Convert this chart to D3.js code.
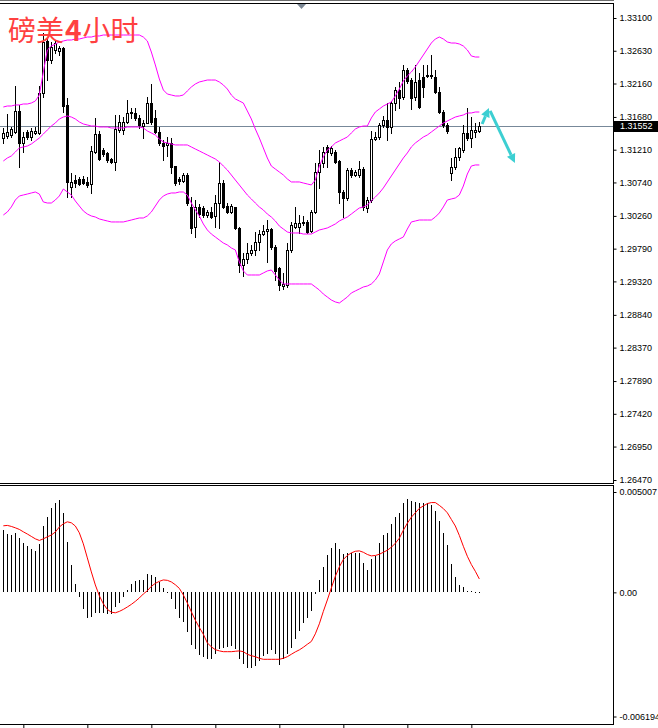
<!DOCTYPE html>
<html>
<head>
<meta charset="utf-8">
<script src="https://cdn.jsdelivr.net/npm/d3@7"></script>
<style>
  body { margin: 0; background: #fff; }
  svg { display: block; }
</style>
</head>
<body>
<div class="canvas"></div>
<script>
// GBPUSD H4 candles (bar 0 = leftmost)
const opens = [
  1.31378, 1.31407, 1.31421, 1.31464, 1.31766, 1.31306, 1.31464, 1.31392, 1.31450, 1.31450,
  1.32024, 1.32770, 1.32497, 1.32641, 1.32627, 1.32670, 1.31852, 1.30675, 1.30775, 1.30790,
  1.30790, 1.30747, 1.30718, 1.31177, 1.31435, 1.31206, 1.31163, 1.31077, 1.31034, 1.31493,
  1.31493, 1.31608, 1.31751, 1.31737, 1.31665, 1.31550, 1.31593, 1.31880, 1.31665, 1.31464,
  1.31306, 1.31278, 1.31306, 1.30976, 1.30790, 1.30761, 1.30847, 1.30388, 1.30101, 1.30388,
  1.30374, 1.30273, 1.30316, 1.30259, 1.30445, 1.30732, 1.30402, 1.30316, 1.30388, 1.30087,
  1.29556, 1.29642, 1.29728, 1.29771, 1.29886, 1.30000, 1.30043, 1.30072, 1.29814, 1.29513,
  1.29254, 1.29269, 1.29771, 1.30101, 1.30101, 1.30158, 1.30173, 1.30043, 1.30316, 1.30890,
  1.31019, 1.31249, 1.31163, 1.31177, 1.31048, 1.30603, 1.30517, 1.30919, 1.30847, 1.30847,
  1.30933, 1.30374, 1.30488, 1.31364, 1.31392, 1.31565, 1.31636, 1.31536, 1.31880, 1.32067,
  1.31966, 1.32354, 1.32210, 1.31966, 1.32210, 1.32253, 1.32268, 1.32268, 1.32253, 1.32038,
  1.31751, 1.31565, 1.30876, 1.30962, 1.31105, 1.31206, 1.31450, 1.31378, 1.31464, 1.31479
];
const highs = [
  1.31522, 1.31722, 1.31536, 1.32124, 1.31852, 1.31464, 1.31493, 1.31522, 1.31536, 1.32124,
  1.32885, 1.32813, 1.32756, 1.32784, 1.32698, 1.32684, 1.31952, 1.30876, 1.30847, 1.30818,
  1.30833, 1.30818, 1.31263, 1.31665, 1.31479, 1.31235, 1.31177, 1.31091, 1.31708, 1.31708,
  1.31679, 1.31923, 1.31809, 1.31809, 1.31708, 1.31636, 1.31966, 1.32153, 1.31780, 1.31536,
  1.31349, 1.31392, 1.31378, 1.30976, 1.30818, 1.30876, 1.30876, 1.30531, 1.30488, 1.30431,
  1.30402, 1.30345, 1.30388, 1.30560, 1.31034, 1.30775, 1.30445, 1.30431, 1.30388, 1.30101,
  1.29728, 1.29871, 1.29843, 1.30029, 1.30058, 1.30130, 1.30201, 1.30087, 1.29843, 1.29527,
  1.29441, 1.29871, 1.30173, 1.30388, 1.30273, 1.30259, 1.30201, 1.30345, 1.31019, 1.31206,
  1.31249, 1.31278, 1.31263, 1.31206, 1.31062, 1.30632, 1.30948, 1.30948, 1.30919, 1.31048,
  1.30962, 1.30531, 1.31479, 1.31464, 1.31593, 1.31694, 1.31880, 1.31909, 1.32110, 1.32182,
  1.32426, 1.32383, 1.32239, 1.32426, 1.32311, 1.32426, 1.32426, 1.32569, 1.32354, 1.32110,
  1.31780, 1.31593, 1.31091, 1.31235, 1.31249, 1.31565, 1.31809, 1.31679, 1.31593, 1.31608
];
const lows = [
  1.31306, 1.31378, 1.31392, 1.31450, 1.30962, 1.31177, 1.31364, 1.31349, 1.31435, 1.31435,
  1.31966, 1.32210, 1.32454, 1.32598, 1.32569, 1.31751, 1.30531, 1.30531, 1.30675, 1.30704,
  1.30718, 1.30675, 1.30589, 1.31163, 1.31062, 1.31120, 1.31034, 1.31019, 1.30919, 1.31464,
  1.31435, 1.31593, 1.31665, 1.31636, 1.31522, 1.31378, 1.31593, 1.31579, 1.31450, 1.31278,
  1.31062, 1.31120, 1.30876, 1.30704, 1.30718, 1.30747, 1.30417, 1.30015, 1.29957, 1.30244,
  1.30244, 1.30244, 1.30230, 1.30101, 1.30087, 1.30374, 1.30302, 1.30302, 1.30072, 1.29455,
  1.29398, 1.29584, 1.29699, 1.29699, 1.29771, 1.29986, 1.29599, 1.29785, 1.29340, 1.29197,
  1.29211, 1.29240, 1.29742, 1.30087, 1.30015, 1.30130, 1.30015, 1.30029, 1.30302, 1.30661,
  1.30962, 1.30962, 1.31134, 1.31019, 1.30445, 1.30244, 1.30488, 1.30818, 1.30833, 1.30818,
  1.30345, 1.30316, 1.30460, 1.31349, 1.31364, 1.31536, 1.31349, 1.31450, 1.31780, 1.31809,
  1.31938, 1.32167, 1.31794, 1.31923, 1.31809, 1.31966, 1.32253, 1.32239, 1.32024, 1.31737,
  1.31536, 1.31450, 1.30775, 1.30933, 1.31062, 1.31177, 1.31349, 1.31249, 1.31392, 1.31464
];
const closes = [
  1.31450, 1.31464, 1.31507, 1.31766, 1.31306, 1.31392, 1.31392, 1.31479, 1.31479, 1.32024,
  1.32756, 1.32497, 1.32684, 1.32741, 1.32670, 1.31837, 1.30747, 1.30747, 1.30732, 1.30718,
  1.30732, 1.30704, 1.31192, 1.31435, 1.31077, 1.31148, 1.31062, 1.31034, 1.31507, 1.31608,
  1.31608, 1.31737, 1.31737, 1.31665, 1.31565, 1.31593, 1.31880, 1.31608, 1.31464, 1.31306,
  1.31263, 1.31306, 1.30962, 1.30732, 1.30761, 1.30847, 1.30445, 1.30087, 1.30388, 1.30287,
  1.30273, 1.30316, 1.30244, 1.30445, 1.30732, 1.30388, 1.30316, 1.30402, 1.30087, 1.29556,
  1.29642, 1.29728, 1.29771, 1.29886, 1.30000, 1.30043, 1.30072, 1.29814, 1.29470, 1.29269,
  1.29283, 1.29771, 1.30130, 1.30158, 1.30158, 1.30173, 1.30029, 1.30316, 1.30890, 1.31019,
  1.31177, 1.31177, 1.31235, 1.31034, 1.30603, 1.30517, 1.30919, 1.30847, 1.30890, 1.30933,
  1.30388, 1.30488, 1.31364, 1.31392, 1.31565, 1.31636, 1.31536, 1.31880, 1.32067, 1.31952,
  1.32354, 1.32196, 1.31952, 1.32182, 1.31823, 1.32110, 1.32282, 1.32282, 1.32038, 1.31751,
  1.31565, 1.31479, 1.30962, 1.31105, 1.31235, 1.31450, 1.31378, 1.31493, 1.31493, 1.31552
];

// Bollinger bands as drawn
const bbUpper = [
  1.31823, 1.31837, 1.31837, 1.31852, 1.31852, 1.31866, 1.31866, 1.31880, 1.31909, 1.31995,
  1.32325, 1.32641, 1.32698, 1.32727, 1.32756, 1.32770, 1.32784, 1.32784, 1.32799, 1.32799,
  1.32813, 1.32827, 1.32827, 1.32842, 1.32842, 1.32856, 1.32856, 1.32856, 1.32856, 1.32856,
  1.32856, 1.32856, 1.32856, 1.32856, 1.32856, 1.32827, 1.32770, 1.32612, 1.32426, 1.32225,
  1.32067, 1.32009, 1.31995, 1.31981, 1.31981, 1.31995, 1.32053, 1.32110, 1.32153, 1.32182,
  1.32196, 1.32210, 1.32210, 1.32210, 1.32182, 1.32139, 1.32081, 1.31995, 1.31938, 1.31909,
  1.31880, 1.31766, 1.31651, 1.31507, 1.31378, 1.31235, 1.31091, 1.30976, 1.30933, 1.30890,
  1.30847, 1.30790, 1.30747, 1.30747, 1.30747, 1.30732, 1.30718, 1.30704, 1.30775, 1.30976,
  1.31105, 1.31206, 1.31249, 1.31306, 1.31335, 1.31364, 1.31392, 1.31450, 1.31507, 1.31536,
  1.31550, 1.31550, 1.31665, 1.31751, 1.31794, 1.31837, 1.31866, 1.31895, 1.31981, 1.32081,
  1.32196, 1.32268, 1.32325, 1.32397, 1.32483, 1.32569, 1.32655, 1.32741, 1.32799, 1.32827,
  1.32799, 1.32756, 1.32741, 1.32741, 1.32727, 1.32698, 1.32641, 1.32555, 1.32540, 1.32540
];
const bbMiddle = [
  1.31048, 1.31091, 1.31120, 1.31177, 1.31235, 1.31249, 1.31263, 1.31292, 1.31335, 1.31378,
  1.31435, 1.31493, 1.31550, 1.31593, 1.31651, 1.31679, 1.31694, 1.31679, 1.31651, 1.31608,
  1.31579, 1.31565, 1.31550, 1.31550, 1.31536, 1.31536, 1.31536, 1.31522, 1.31522, 1.31522,
  1.31522, 1.31536, 1.31536, 1.31536, 1.31536, 1.31522, 1.31479, 1.31450, 1.31421, 1.31364,
  1.31321, 1.31306, 1.31292, 1.31278, 1.31278, 1.31278, 1.31278, 1.31249, 1.31220, 1.31192,
  1.31163, 1.31134, 1.31105, 1.31077, 1.31034, 1.30976, 1.30919, 1.30847, 1.30775, 1.30704,
  1.30632, 1.30560, 1.30503, 1.30445, 1.30388, 1.30345, 1.30287, 1.30244, 1.30187, 1.30115,
  1.30072, 1.30029, 1.30015, 1.30015, 1.30015, 1.30000, 1.30000, 1.30000, 1.30029, 1.30058,
  1.30072, 1.30087, 1.30115, 1.30144, 1.30187, 1.30216, 1.30244, 1.30287, 1.30331, 1.30374,
  1.30388, 1.30417, 1.30474, 1.30531, 1.30589, 1.30661, 1.30747, 1.30833, 1.30919, 1.31005,
  1.31091, 1.31163, 1.31249, 1.31306, 1.31349, 1.31392, 1.31421, 1.31464, 1.31507, 1.31550,
  1.31593, 1.31622, 1.31651, 1.31679, 1.31694, 1.31708, 1.31737, 1.31737, 1.31751, 1.31751
];
const bbLower = [
  1.30273, 1.30316, 1.30388, 1.30488, 1.30546, 1.30560, 1.30574, 1.30589, 1.30603, 1.30574,
  1.30460, 1.30445, 1.30445, 1.30488, 1.30546, 1.30646, 1.30603, 1.30560, 1.30474, 1.30402,
  1.30331, 1.30287, 1.30259, 1.30244, 1.30216, 1.30201, 1.30187, 1.30173, 1.30173, 1.30173,
  1.30173, 1.30187, 1.30201, 1.30216, 1.30230, 1.30230, 1.30259, 1.30316, 1.30402, 1.30488,
  1.30546, 1.30574, 1.30589, 1.30589, 1.30603, 1.30603, 1.30560, 1.30445, 1.30345, 1.30259,
  1.30144, 1.30058, 1.30000, 1.29957, 1.29914, 1.29871, 1.29843, 1.29800, 1.29771, 1.29599,
  1.29470, 1.29412, 1.29412, 1.29412, 1.29412, 1.29441, 1.29470, 1.29484, 1.29412, 1.29340,
  1.29283, 1.29283, 1.29283, 1.29283, 1.29283, 1.29283, 1.29283, 1.29283, 1.29240, 1.29197,
  1.29139, 1.29096, 1.29053, 1.29025, 1.29010, 1.29053, 1.29096, 1.29154, 1.29183, 1.29211,
  1.29240, 1.29254, 1.29283, 1.29340, 1.29426, 1.29599, 1.29771, 1.29857, 1.29900, 1.29929,
  1.29957, 1.30072, 1.30173, 1.30187, 1.30201, 1.30201, 1.30201, 1.30201, 1.30244, 1.30302,
  1.30388, 1.30488, 1.30503, 1.30517, 1.30560, 1.30689, 1.30861, 1.30976, 1.30991, 1.30991
];

// MACD panel: histogram and signal line
const macdHist = [
  0.00309, 0.00292, 0.00287, 0.00297, 0.00271, 0.00247, 0.00229, 0.00217, 0.00205, 0.00242,
  0.00329, 0.00374, 0.00421, 0.00446, 0.00459, 0.00397, 0.00251, 0.00134, 0.00042, -0.00020,
  -0.00080, -0.00125, -0.00120, -0.00097, -0.00097, -0.00097, -0.00104, -0.00105, -0.00070, -0.00047,
  -0.00017, 0.00013, 0.00042, 0.00058, 0.00063, 0.00063, 0.00092, 0.00087, 0.00075, 0.00050,
  0.00020, 0.00003, -0.00030, -0.00080, -0.00125, -0.00142, -0.00192, -0.00256, -0.00276, -0.00309,
  -0.00317, -0.00329, -0.00329, -0.00301, -0.00276, -0.00271, -0.00267, -0.00264, -0.00276, -0.00326,
  -0.00354, -0.00371, -0.00371, -0.00362, -0.00337, -0.00312, -0.00304, -0.00284, -0.00304, -0.00359,
  -0.00329, -0.00304, -0.00271, -0.00229, -0.00187, -0.00150, -0.00124, -0.00087, -0.00005, 0.00063,
  0.00127, 0.00184, 0.00222, 0.00244, 0.00217, 0.00189, 0.00197, 0.00197, 0.00194, 0.00194,
  0.00144, 0.00114, 0.00164, 0.00180, 0.00247, 0.00284, 0.00297, 0.00339, 0.00377, 0.00397,
  0.00444, 0.00464, 0.00456, 0.00452, 0.00444, 0.00448, 0.00448, 0.00434, 0.00406, 0.00356,
  0.00294, 0.00234, 0.00139, 0.00077, 0.00038, 0.00027, 0.00008, 0.00005, 0.00003, 0.00003
];
const macdSignal = [
  0.00332, 0.00334, 0.00329, 0.00322, 0.00314, 0.00302, 0.00291, 0.00279, 0.00267, 0.00259,
  0.00267, 0.00277, 0.00286, 0.00301, 0.00326, 0.00342, 0.00352, 0.00347, 0.00331, 0.00297,
  0.00242, 0.00172, 0.00102, 0.00037, -0.00017, -0.00057, -0.00085, -0.00099, -0.00102, -0.00095,
  -0.00085, -0.00073, -0.00060, -0.00045, -0.00028, -0.00008, 0.00008, 0.00030, 0.00045, 0.00055,
  0.00062, 0.00060, 0.00052, 0.00038, 0.00020, -0.00013, -0.00053, -0.00097, -0.00139, -0.00175,
  -0.00209, -0.00252, -0.00272, -0.00286, -0.00292, -0.00296, -0.00296, -0.00296, -0.00294, -0.00292,
  -0.00296, -0.00309, -0.00316, -0.00321, -0.00329, -0.00334, -0.00334, -0.00334, -0.00334, -0.00334,
  -0.00329, -0.00321, -0.00309, -0.00297, -0.00287, -0.00274, -0.00259, -0.00245, -0.00207, -0.00157,
  -0.00095, -0.00038, 0.00022, 0.00080, 0.00127, 0.00164, 0.00184, 0.00197, 0.00205, 0.00207,
  0.00200, 0.00189, 0.00182, 0.00184, 0.00190, 0.00200, 0.00210, 0.00225, 0.00245, 0.00270,
  0.00310, 0.00345, 0.00375, 0.00397, 0.00419, 0.00431, 0.00443, 0.00448, 0.00448, 0.00434,
  0.00418, 0.00397, 0.00364, 0.00331, 0.00284, 0.00230, 0.00180, 0.00139, 0.00105, 0.00067
];

// axis labels
const priceTicks = [1.33100, 1.32630, 1.32160, 1.31680, 1.31210, 1.30740, 1.30260, 1.29790,
  1.29320, 1.28840, 1.28370, 1.27890, 1.27420, 1.26950, 1.26470];
const macdTicks = [0.005007, 0, -0.006194];
const timeTicks = [5, 21, 37, 53, 69, 85, 101, 117];

// hand drawn arrows: [bar, price] start and end
const arrows = [
  [[119.7, 1.31579], [121.4, 1.31809]],
  [[121.7, 1.31766], [127.9, 1.31019]]
];

const titleParts = ['磅美', '4', '小时'];

const width = 658, height = 728;
const right = 613.5;

const svg = d3.select('.canvas')
    .append('svg')
    .attr('width', width)
    .attr('height', height)
    .style('font-family', '"Liberation Sans", Arial, sans-serif');

svg.append('rect').attr('width', width).attr('height', height).attr('fill', '#fff');

// scales
const x = d3.scaleLinear().domain([0, 119]).range([3.33, 479.33]);
const y = d3.scaleLinear().domain([1.26470, 1.33100]).range([480, 18]);
const ym = d3.scaleLinear().domain([-0.006194, 0.005007]).range([716.5, 492]);

const col = i => Math.round(x(i));

const main = svg.append('g');

// bid line
const last = closes[closes.length - 1];
main.append('line')
    .attr('x1', 0).attr('x2', right)
    .attr('y1', Math.round(y(last)) + 0.5).attr('y2', Math.round(y(last)) + 0.5)
    .attr('stroke', '#778899');

// candles
const bars = d3.range(opens.length);
const candle = main.selectAll('g.candle')
    .data(bars)
    .enter()
    .append('g')
    .attr('class', 'candle');

candle.append('line')
    .attr('x1', i => col(i) + 0.5).attr('x2', i => col(i) + 0.5)
    .attr('y1', i => Math.round(y(highs[i])))
    .attr('y2', i => Math.round(y(lows[i])) + 1)
    .attr('stroke', '#000');

candle.append('rect')
    .each(function(i) {
        const top = Math.round(y(Math.max(opens[i], closes[i])));
        const bot = Math.round(y(Math.min(opens[i], closes[i])));
        const el = d3.select(this);
        if (closes[i] >= opens[i]) {
            el.attr('x', col(i) - 0.5).attr('y', top + 0.5)
              .attr('width', 2).attr('height', Math.max(bot - top, 0))
              .attr('fill', '#fff').attr('stroke', '#000');
        } else {
            el.attr('x', col(i) - 1).attr('y', top)
              .attr('width', 3).attr('height', Math.max(bot - top + 1, 1))
              .attr('fill', '#000');
        }
    });

// bollinger bands
const band = d3.line().x((d, i) => x(i)).y(d => y(d));
[bbUpper, bbMiddle, bbLower].forEach(b => {
    main.append('path')
        .datum(b)
        .attr('d', band)
        .attr('fill', 'none')
        .attr('stroke', '#ff00ff')
        .attr('stroke-width', 1);
});

// title
const title = svg.append('text')
    .attr('x', 8).attr('y', 41)
    .attr('fill', '#ff4040')
    .style('font-family', '"Noto Sans CJK SC", sans-serif')
    .style('font-size', '28px');
titleParts.forEach((t, k) => {
    title.append('tspan')
        .style('font-weight', k === 1 ? 'bold' : 'normal')
        .attr('dx', k === 0 ? 0 : 1)
        .text(t);
});

// arrows
const arrowColor = '#3ccfd2';
arrows.forEach(([a, b]) => {
    const x1 = x(a[0]), y1 = y(a[1]), x2 = x(b[0]), y2 = y(b[1]);
    const ang = Math.atan2(y2 - y1, x2 - x1);
    const hl = 9, hw = 4.5;
    const bx = x2 - hl * Math.cos(ang), by = y2 - hl * Math.sin(ang);
    svg.append('line')
        .attr('x1', x1).attr('y1', y1).attr('x2', bx).attr('y2', by)
        .attr('stroke', arrowColor).attr('stroke-width', 3);
    svg.append('polygon')
        .attr('points', [
            [x2, y2],
            [bx + hw * Math.sin(ang), by - hw * Math.cos(ang)],
            [bx - hw * Math.sin(ang), by + hw * Math.cos(ang)]
        ].map(p => p.join(',')).join(' '))
        .attr('fill', arrowColor);
});

// MACD histogram
const zero = Math.round(ym(0));
svg.append('g').selectAll('line')
    .data(macdHist)
    .enter()
    .append('line')
    .attr('x1', (d, i) => col(i) + 0.5).attr('x2', (d, i) => col(i) + 0.5)
    .attr('y1', zero)
    .attr('y2', d => {
        const v = Math.round(ym(d));
        if (Math.abs(v - zero) < 1) return zero + 1;
        return d > 0 ? v : v + 1;
    })
    .attr('stroke', '#000');

// MACD signal
svg.append('path')
    .datum(macdSignal)
    .attr('d', d3.line().x((d, i) => x(i)).y(d => ym(d)))
    .attr('fill', 'none')
    .attr('stroke', '#ff0000')
    .attr('stroke-width', 1);

// frames
const frame = svg.append('g').attr('stroke', '#000').attr('shape-rendering', 'crispEdges');
frame.append('line').attr('x1', 0).attr('x2', right).attr('y1', 0.5).attr('y2', 0.5).attr('stroke', '#6d6d6d');
frame.append('line').attr('x1', 0).attr('x2', right).attr('y1', 3.5).attr('y2', 3.5);
frame.append('line').attr('x1', right).attr('x2', right).attr('y1', 3).attr('y2', 484);
frame.append('line').attr('x1', 0).attr('x2', right).attr('y1', 483.5).attr('y2', 483.5);
frame.append('line').attr('x1', 0).attr('x2', right).attr('y1', 485.5).attr('y2', 485.5);
frame.append('line').attr('x1', right).attr('x2', right).attr('y1', 485).attr('y2', 725);
frame.append('line').attr('x1', 0).attr('x2', right).attr('y1', 724.5).attr('y2', 724.5);

// shift marker
svg.append('polygon')
    .attr('points', '297,4 306,4 301.5,9')
    .attr('fill', '#7b8794');

// price axis
const yAxis = d3.axisRight(y)
    .tickValues(priceTicks)
    .tickSize(3)
    .tickPadding(3)
    .tickFormat(d3.format('.5f'));
const yAxisGroup = svg.append('g')
    .attr('transform', `translate(${right},0)`)
    .call(yAxis);

// MACD axis (bottom label is clipped by the window edge, as in the terminal)
const mAxis = d3.axisRight(ym)
    .tickValues(macdTicks)
    .tickSize(3)
    .tickPadding(3)
    .tickFormat(d => d === 0 ? '0.00' : String(d));
const mAxisGroup = svg.append('g')
    .attr('transform', `translate(${right},0)`)
    .call(mAxis);

// time ticks
const xAxis = d3.axisBottom(x)
    .tickValues(timeTicks)
    .tickSize(4)
    .tickFormat('');
const xAxisGroup = svg.append('g')
    .attr('transform', 'translate(0,724)')
    .call(xAxis);

[yAxisGroup, mAxisGroup, xAxisGroup].forEach(g => {
    g.select('.domain').remove();
    g.selectAll('line').attr('stroke', '#000');
    g.selectAll('text')
        .attr('fill', '#000')
        .style('font-family', '"Liberation Sans", Arial, sans-serif')
        .style('font-size', '9px');
});

// current price box
const by = y(last);
svg.append('rect')
    .attr('x', 614).attr('y', Math.round(by) - 5)
    .attr('width', 44).attr('height', 11)
    .attr('fill', '#000');
svg.append('text')
    .attr('x', 620).attr('y', by)
    .attr('dy', '0.35em')
    .attr('fill', '#fff')
    .style('font-size', '9px')
    .text(d3.format('.5f')(last));
</script>
</body>
</html>
